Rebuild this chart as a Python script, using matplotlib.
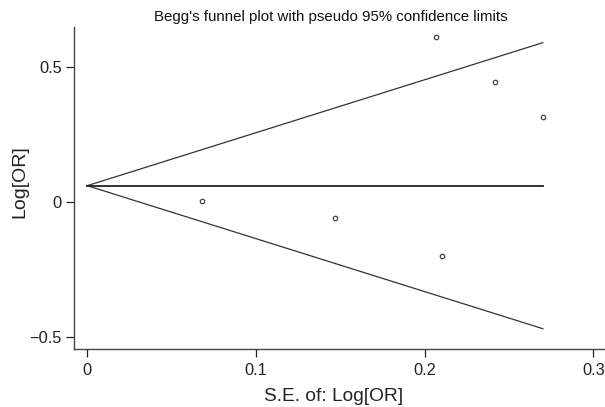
import matplotlib
matplotlib.use("Agg")
import matplotlib.pyplot as plt

# Data
se = [0.0678, 0.147, 0.2067, 0.210, 0.2416, 0.2701]
logor = [0.005, -0.058, 0.613, -0.200, 0.446, 0.315]
funnel_se = [0.0, 0.2701]
upper_limit = [0.0615, 0.591]
lower_limit = [0.0615, -0.468]
pooled = [0.0615, 0.0615]
xticks = [0, 0.1, 0.2, 0.3]
xticklabels = ["0", "0.1", "0.2", "0.3"]
yticks = [-0.5, 0, 0.5]
yticklabels = ["\u22120.5", "0", "0.5"]

plt.rcParams['font.family'] = ['Liberation Sans', 'DejaVu Sans']

fig = plt.figure(figsize=(6.05, 4.07), dpi=100)
ax = fig.add_axes([74.4/605, 1-348.7/407, 1-74.4/605, (348.7-26.7)/407])

ax.plot(funnel_se, upper_limit, color='#333333', lw=0.9)
ax.plot(funnel_se, lower_limit, color='#333333', lw=0.9)
ax.plot(funnel_se, pooled, color='#222222', lw=1.3)
ax.plot(se, logor, linestyle='none', marker='o', markersize=3.2,
        markerfacecolor='white', markeredgecolor='#444444', markeredgewidth=0.9)

ax.set_xlim(-0.0076, 0.3069)
ax.set_ylim(-0.542, 0.650)
ax.set_xticks(xticks)
ax.set_xticklabels(xticklabels)
ax.set_yticks(yticks)
ax.set_yticklabels(yticklabels)
ax.tick_params(axis='both', labelsize=11.8, colors='#222222', length=5.5, width=0.9)
ax.tick_params(axis='x', pad=4.5)
ax.tick_params(axis='y', pad=3.5)
for s in ['top', 'right']:
    ax.spines[s].set_visible(False)
for s in ['left', 'bottom']:
    ax.spines[s].set_color('#444444')
    ax.spines[s].set_linewidth(1.0)

fig.text(330.7/605, 1-17.3/407, "Begg's funnel plot with pseudo 95% confidence limits",
         ha='center', va='center', fontsize=10.8, color='#111111')
fig.text(333.7/605, 1-396.7/407, "S.E. of: Log[OR]", ha='center', va='center',
         fontsize=13.8, color='#222222')
fig.text(20/605, 1-182/407, "Log[OR]", ha='center', va='center', rotation=90,
         fontsize=14, color='#222222')

fig.savefig("out.png", dpi=100, facecolor='white')
